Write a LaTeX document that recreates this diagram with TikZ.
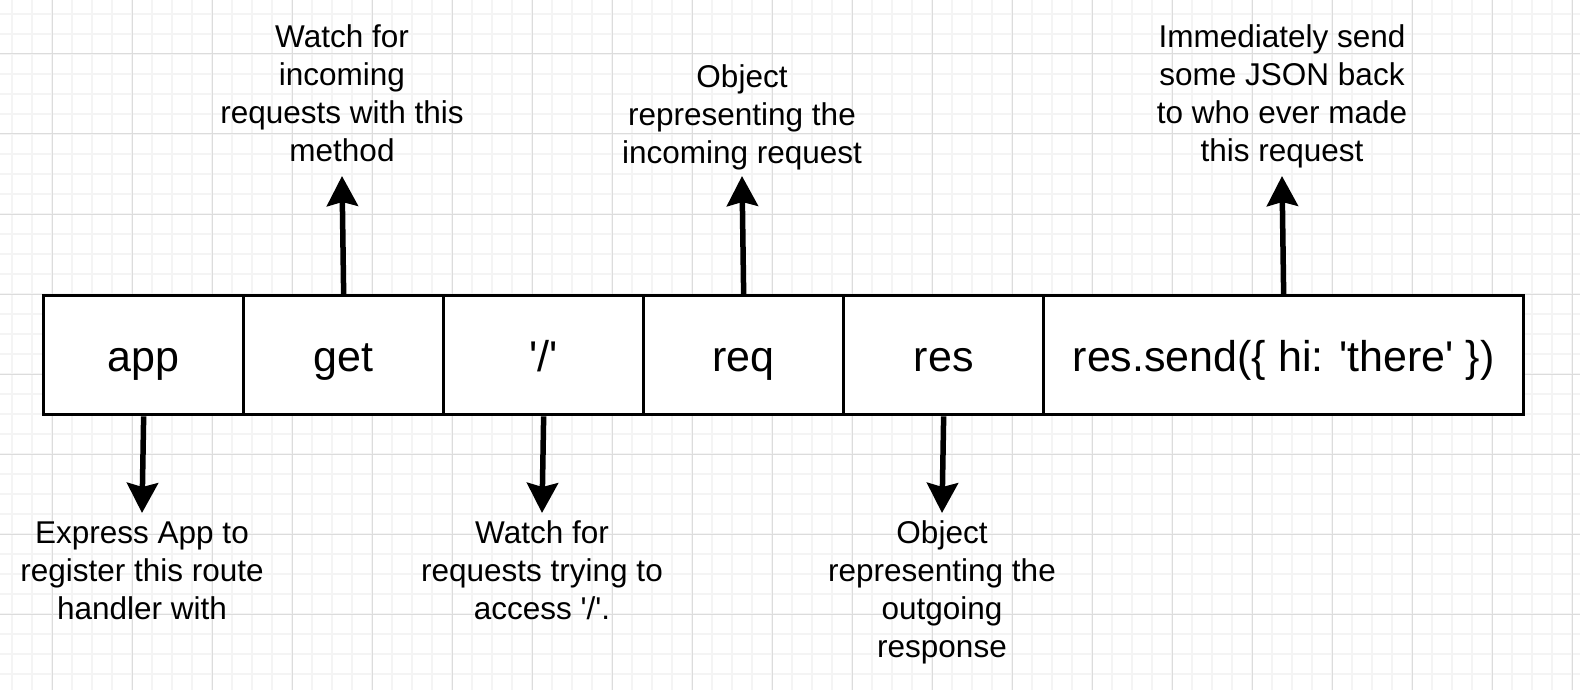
\documentclass[tikz,border=0pt]{standalone}
\usepackage{fontspec}
\setmainfont{Liberation Sans}[Ligatures=TeXOff]
\usetikzlibrary{arrows.meta}
\definecolor{minorgrid}{HTML}{F4F4F4}
\definecolor{majorgrid}{HTML}{DCDCDC}
\begin{document}
\begin{tikzpicture}[x=1pt,y=-1pt,
  cell/.style={draw=black, line width=3.3pt, fill=white, minimum width=200pt,
    minimum height=119pt, inner sep=0pt, text height=40pt, text depth=7pt,
    font=\fontsize{43}{50}\selectfont, anchor=north west},
  lbl/.style={inner sep=0pt, font=\fontsize{31.5}{38}\selectfont, anchor=base},
  arr/.style={line width=5.5pt, -{Stealth[length=30pt,width=31pt,inset=4pt]}},
  mingrid/.style={draw=minorgrid, line width=1.8pt},
  majgrid/.style={draw=majorgrid, line width=1pt}]
\useasboundingbox (0,0) rectangle (1580,690);
\fill[white] (0,0) rectangle (1580,690);
% grid
\foreach \x in {12,32,...,1580} \draw[mingrid] (\x,0) -- (\x,690);
\foreach \y in {14,34,...,690} \draw[mingrid] (0,\y) -- (1580,\y);
\foreach \x in {52,132,...,1580} \draw[majgrid] (\x,0) -- (\x,690);
\foreach \y in {54,134,...,690} \draw[majgrid] (0,\y) -- (1580,\y);
% cells
\node[cell] (app) at (42,294) {app};
\node[cell] (get) at (242,294) {get};
\node[cell] (path) at (442,294) {'/'};
\node[cell] (req) at (642,294) {req};
\node[cell] (res) at (842,294) {res};
\node[cell, minimum width=480pt] (send) at (1042,294) {res.send(\{ hi: 'there' \})};
% labels
\node[lbl] (lget) at (342,48) {\begin{tabular}[t]{@{}c@{}}Watch for\\incoming\\requests with this\\method\end{tabular}};
\node[lbl] (lreq) at (742,88) {\begin{tabular}[t]{@{}c@{}}Object\\representing the\\incoming request\end{tabular}};
\node[lbl] (lsend) at (1282,48) {\begin{tabular}[t]{@{}c@{}}Immediately send\\some JSON back\\to who ever made\\this request\end{tabular}};
\node[lbl] (lapp) at (142,543) {\begin{tabular}[t]{@{}c@{}}Express App to\\register this route\\handler with\end{tabular}};
\node[lbl] (lpath) at (542,543) {\begin{tabular}[t]{@{}c@{}}Watch for\\requests trying to\\access '/'.\end{tabular}};
\node[lbl] (lres) at (942,543) {\begin{tabular}[t]{@{}c@{}}Object\\representing the\\outgoing\\response\end{tabular}};
% arrow tips
\coordinate (tget) at (342,176);
\coordinate (treq) at (742,176);
\coordinate (tsend) at (1282,176);
\coordinate (tapp) at (142,513);
\coordinate (tpath) at (542,513);
\coordinate (tres) at (942,513);
% connectors
\draw[arr] (get.north) -- (tget);
\draw[arr] (req.north) -- (treq);
\draw[arr] (send.north) -- (tsend);
\draw[arr] (app.south) -- (tapp);
\draw[arr] (path.south) -- (tpath);
\draw[arr] (res.south) -- (tres);
\end{tikzpicture}
\end{document}
